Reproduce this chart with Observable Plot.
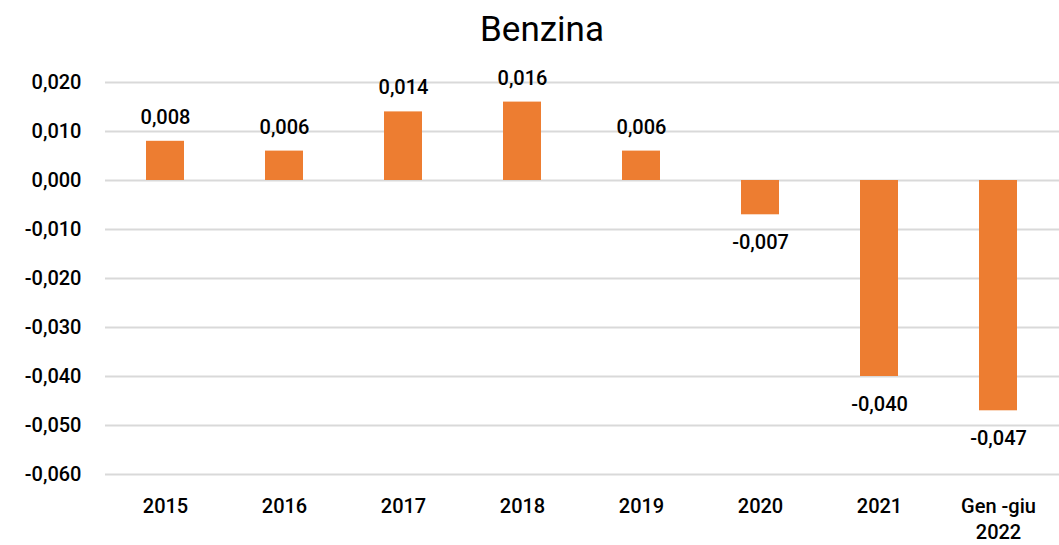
<!DOCTYPE html>
<html>
<head>
<meta charset="utf-8">
<script src="https://cdn.jsdelivr.net/npm/d3@7"></script>
<script src="https://cdn.jsdelivr.net/npm/@observablehq/plot@0.6"></script>
<style>
  body { margin: 0; background: #fff; font-family: Roboto, "DejaVu Sans", sans-serif; }
  #title { height: 60px; line-height: 60px; text-align: center; font-size: 35px; font-weight: 400; color: #000; padding-left: 25px; }
</style>
</head>
<body>
<div id="title">Benzina</div>
<div id="chart"></div>
<script>
const categories = ["2015", "2016", "2017", "2018", "2019", "2020", "2021", "Gen -giu\n2022"];
const values = [0.008, 0.006, 0.014, 0.016, 0.006, -0.007, -0.040, -0.047];
const yTicks = [0.02, 0.01, 0, -0.01, -0.02, -0.03, -0.04, -0.05, -0.06];

const data = categories.map((c, i) => ({cat: c, v: values[i]}));
const fmt = d => (d < 0 ? "-" : "") + Math.abs(d).toFixed(3).replace(".", ",");

const chart = Plot.plot({
  width: 1059,
  height: 485,
  marginLeft: 105,
  marginRight: 0,
  marginTop: 22,
  marginBottom: 71,
  style: {fontFamily: "Roboto, 'DejaVu Sans', sans-serif", fontSize: "20px", fontWeight: 500, color: "#000"},
  x: {domain: categories, paddingInner: 0.68, paddingOuter: 0.34, label: null},
  y: {domain: [-0.06, 0.02], label: null},
  marks: [
    Plot.gridY(yTicks, {stroke: "#d9d9d9", strokeOpacity: 1, strokeWidth: 2}),
    Plot.axisY(yTicks, {tickSize: 0, tickPadding: 24, tickFormat: fmt, fontSize: 20, label: null}),
    Plot.axisX({tickSize: 0, tickPadding: 20, fontSize: 20, lineHeight: 1.3, label: null}),
    Plot.barY(data, {x: "cat", y: "v", fill: "#ED7D31"}),
    Plot.text(data.filter(d => d.v >= 0), {
      x: "cat", y: "v", text: d => fmt(d.v), dy: -24, fontSize: 20, fill: "#000"
    }),
    Plot.text(data.filter(d => d.v < 0), {
      x: "cat", y: "v", text: d => fmt(d.v), dy: 28, fontSize: 20, fill: "#000"
    })
  ]
});
document.getElementById("chart").appendChild(chart);
</script>
</body>
</html>
